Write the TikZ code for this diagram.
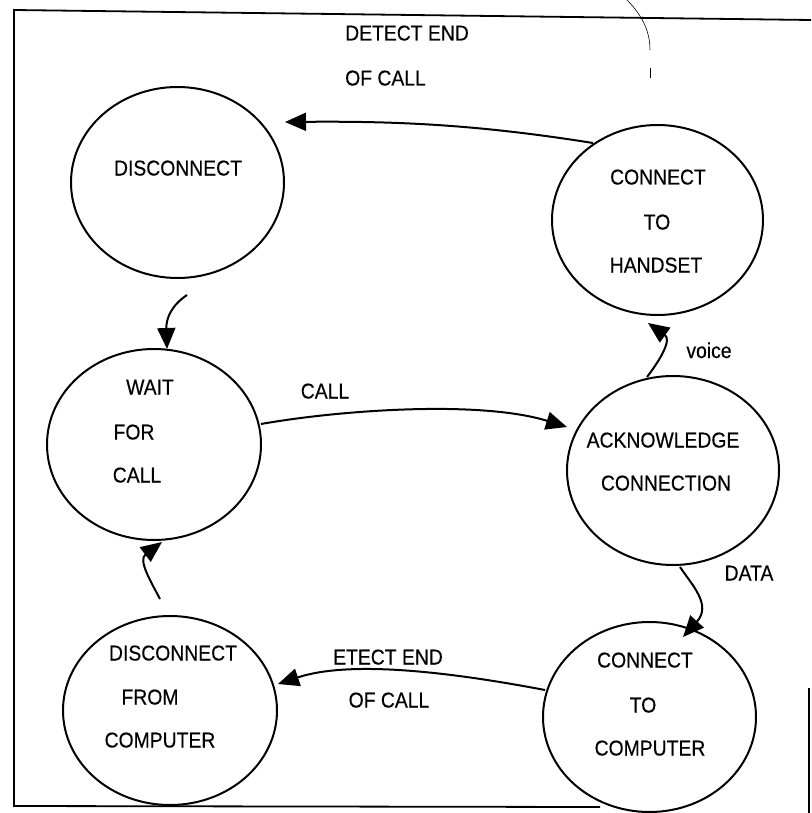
\documentclass[tikz,border=0pt]{standalone}
\usepackage{fontspec}
\setmainfont{Liberation Sans}[FakeStretch=0.9,FakeBold=0.4]
\usetikzlibrary{shapes.geometric,arrows.meta,calc}

\begin{document}
\begin{tikzpicture}[x=1pt,y=-1pt,
  state/.style={draw, ellipse, line width=2pt, inner sep=0pt},
  lbl/.style={font=\fontsize{21.5}{25}\selectfont, inner sep=0pt, anchor=base},
  lblw/.style={lbl, anchor=base west},
  flow/.style={line width=2pt, -{Triangle[length=21pt,width=18pt]}},
  rule/.style={line width=1.8pt}]
\useasboundingbox (0,0) rectangle (811,813);

% outer frame
\draw[rule] (811,20) -- (14,10) -- (14,806) -- (600,807);
\draw[rule] (809,688) -- (809,813);
\draw[line width=0.6pt] (627,0) .. controls (645,18) and (650,35) .. (650,50);
\draw[line width=0.8pt] (650,68) -- (650,78);

% states
\node[state, minimum width=213pt, minimum height=191pt] (dis)  at (177.5,182.5) {};
\node[state, minimum width=211pt, minimum height=190pt] (hs)   at (657.5,220) {};
\node[state, minimum width=214pt, minimum height=191pt] (wait) at (154,444.5) {};
\node[state, minimum width=212pt, minimum height=189pt] (ack)  at (673,470.5) {};
\node[state, minimum width=214pt, minimum height=189pt] (dfc)  at (170,710.5) {};
\node[state, minimum width=213pt, minimum height=190pt] (ctc)  at (649.5,717) {};

% state texts
\node[lbl] (dis-a) at (178,175.5) {DISCONNECT};

\node[lbl] (hs-a) at (658,184.5) {CONNECT};
\node[lbl] (hs-b) at (657,229.5) {TO};
\node[lbl] (hs-c) at (656,272.5) {HANDSET};

\node[lbl] (wait-a) at (150,394.5) {WAIT};
\node[lbl] (wait-b) at (134,439.5) {FOR};
\node[lbl] (wait-c) at (137,482.5) {CALL};

\node[lbl] (ack-a) at (663,447.5) {ACKNOWLEDGE};
\node[lbl] (ack-b) at (666,490.5) {CONNECTION};

\node[lbl] (dfc-a) at (173,660.5) {DISCONNECT};
\node[lbl] (dfc-b) at (150,704.5) {FROM};
\node[lbl] (dfc-c) at (160,747.5) {COMPUTER};

\node[lbl] (ctc-a) at (645,667.5) {CONNECT};
\node[lbl] (ctc-b) at (643,712.5) {TO};
\node[lbl] (ctc-c) at (650,755.5) {COMPUTER};

% transition labels
\node[lblw] (l-detect) at (345,40.5) {DETECT END};
\node[lblw] (l-ofcall) at (345,85.5) {OF CALL};
\node[lbl]  (l-call)   at (325,398.5) {CALL};
\node[lbl]  (l-voice)  at (709,358) {voice};
\node[lbl]  (l-data)   at (749,580.5) {DATA};
\node[lbl]  (l-etect)  at (388,664.5) {ETECT END};
\node[lbl]  (l-ofcall2) at (389,707.5) {OF CALL};

% transitions
\draw[flow] ($(hs.center)+(-64.5,-77)$) .. controls (480,125) and (400,121) .. ($(dis.center)+(107.5,-60.5)$);
\draw[flow] ($(dis.center)+(9.5,112.5)$) .. controls (172,305) and (166,318) .. ($(wait.center)+(13,-95.5)$);
\draw[flow] ($(wait.center)+(107,-20.5)$) .. controls (340,410) and (480,400) .. ($(ack.center)+(-106,-43.5)$);
\draw[flow] ($(ack.center)+(-26,-93.5)$) .. controls (660,360) and (672,340) .. ($(hs.center)+(-9.5,103)$);
\draw[flow] ($(ack.center)+(7,96.5)$) .. controls (692,585) and (712,605) .. ($(ctc.center)+(33.5,-80)$);
\draw[flow] ($(ctc.center)+(-104.5,-27)$) .. controls (450,672) and (350,660) .. ($(dfc.center)+(108,-26.5)$);
\draw[flow] ($(dfc.center)+(-10,-111.5)$) .. controls (150,580) and (138,560) .. ($(wait.center)+(8,97.5)$);
\end{tikzpicture}
\end{document}
